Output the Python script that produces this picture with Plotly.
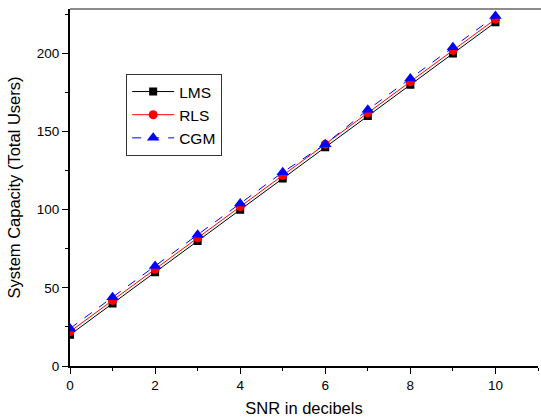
import plotly.graph_objects as go

snr = [0, 1, 2, 3, 4, 5, 6, 7, 8, 9, 10]
lms = [20, 40, 60, 80, 100, 120, 140, 160, 180, 200, 220]
rls = [22, 42, 62, 82, 102, 122, 142, 162, 182, 202, 222]
cgm = [24, 44, 64, 84, 104, 124, 142, 164, 184, 204, 224]

fig = go.Figure()
fig.add_trace(go.Scatter(x=snr, y=lms, name="LMS", mode="lines+markers",
                         line=dict(color="black", width=1),
                         marker=dict(symbol="square", size=8, color="black")))
fig.add_trace(go.Scatter(x=snr, y=rls, name="RLS", mode="lines+markers",
                         line=dict(color="red", width=1),
                         marker=dict(symbol="circle", size=9, color="red")))
fig.add_trace(go.Scatter(x=snr, y=cgm, name="CGM", mode="lines+markers",
                         line=dict(color="blue", width=1, dash="dash"),
                         marker=dict(symbol="triangle-up", size=11, color="blue")))

font = "Liberation Sans, Arial, sans-serif"
fig.update_layout(
    width=541, height=419,
    margin=dict(l=70, r=3, t=9, b=53, autoexpand=False),
    paper_bgcolor="white", plot_bgcolor="white",
    font=dict(family=font, size=13, color="black"),
    showlegend=True,
    legend=dict(x=0.12, y=0.818, xanchor="left", yanchor="top",
                bgcolor="white", bordercolor="#333", borderwidth=1,
                font=dict(size=15.5), tracegroupgap=0, itemwidth=42),
    xaxis=dict(range=[0, 11], tickmode="array", tickvals=[0, 2, 4, 6, 8, 10],
               ticks="outside", ticklen=6, tickwidth=1, tickcolor="black",
               showline=True, linecolor="black", linewidth=2, showgrid=False,
               zeroline=False, tickfont=dict(size=13.5),
               minor=dict(dtick=1, tick0=0, ticks="outside", ticklen=3, tickcolor="black", showgrid=False),
               title=dict(text="SNR in decibels", font=dict(size=16.5), standoff=10)),
    yaxis=dict(range=[0, 228.5], tickmode="array", tickvals=[0, 50, 100, 150, 200],
               ticks="outside", ticklen=6, tickwidth=1, tickcolor="black",
               showline=True, linecolor="black", linewidth=2, showgrid=False,
               zeroline=False, tickfont=dict(size=13.5),
               minor=dict(dtick=25, tick0=0, ticks="outside", ticklen=3, tickcolor="black", showgrid=False),
               title=dict(text="System Capacity (Total Users)", font=dict(size=16.5), standoff=12)),
)
fig.add_shape(type="line", xref="paper", yref="paper", x0=0, x1=1.01, y0=1, y1=1,
              line=dict(color="#666", width=1.5))
fig.write_html("out.html", config={"displayModeBar": False},
               post_script="document.body.style.margin='0';")
